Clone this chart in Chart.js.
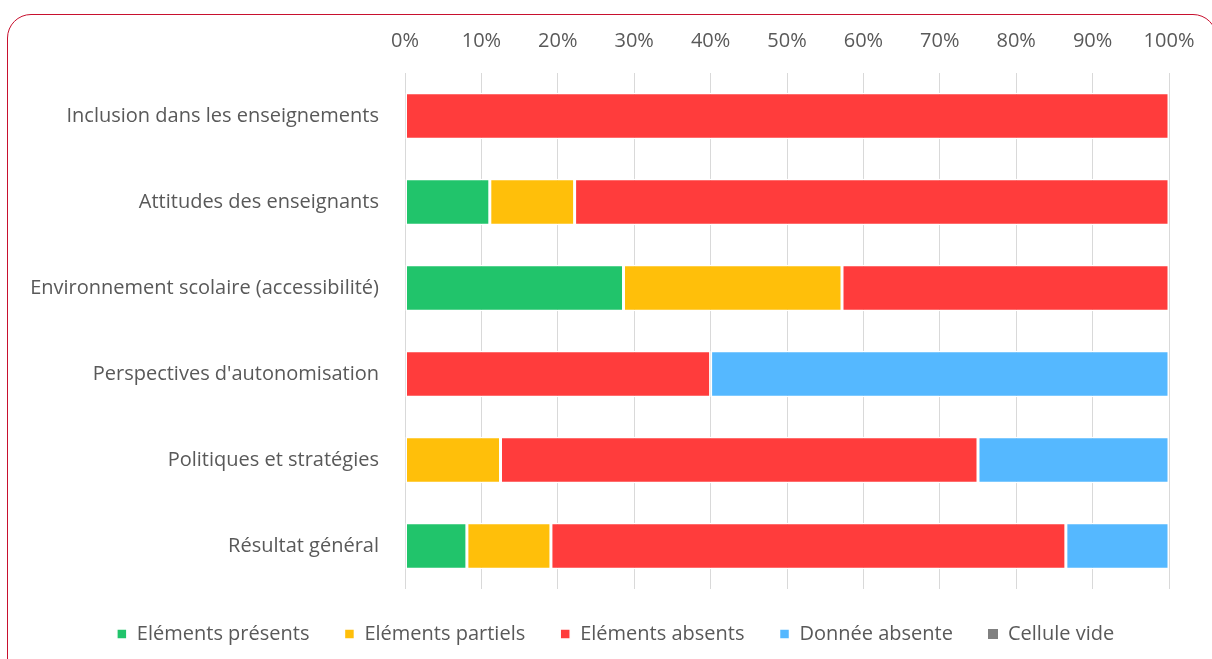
<!DOCTYPE html>
<html>
<head>
<meta charset="utf-8">
<script src="https://cdn.jsdelivr.net/npm/chart.js@4/dist/chart.umd.min.js"></script>
<style>
    html, body { margin: 0; padding: 0; background: #fff; }
    #wrap { position: relative; width: 1212px; height: 659px; overflow: hidden; }
    #frame {
        position: absolute; left: 7px; top: 14px; width: 1210px; height: 680px;
        border: 1.5px solid #C8102E; border-radius: 24px; box-sizing: border-box;
    }
    #chart { position: absolute; left: 0; top: 0; }
</style>
</head>
<body>
<div id="wrap">
    <div id="frame"></div>
    <canvas id="chart" width="1212" height="659"></canvas>
</div>
<script>
var categories = [
    "Inclusion dans les enseignements",
    "Attitudes des enseignants",
    "Environnement scolaire (accessibilité)",
    "Perspectives d'autonomisation",
    "Politiques et stratégies",
    "Résultat général"
];

var presents = [0, 11.1, 28.6, 0, 0, 8.1];
var partiels = [0, 11.1, 28.6, 0, 12.5, 11.0];
var absents = [100, 77.8, 42.8, 40, 62.5, 67.4];
var donneeAbsente = [0, 0, 0, 60, 25, 13.5];
var celluleVide = [0, 0, 0, 0, 0, 0];

var seriesNames = ["Eléments présents", "Eléments partiels", "Eléments absents", "Donnée absente", "Cellule vide"];
var seriesColors = ["#21C46B", "#FFBF0A", "#FF3C3C", "#55B8FF", "#808080"];
var xTicks = [0, 10, 20, 30, 40, 50, 60, 70, 80, 90, 100];

var textColor = "#595959";
var font = "'Open Sans', sans-serif";

var seriesData = [presents, partiels, absents, donneeAbsente, celluleVide];
var datasets = seriesData.map(function(d, i) {
    return {
        label: seriesNames[i],
        data: d,
        backgroundColor: seriesColors[i],
        borderColor: "#ffffff",
        borderWidth: i === 4 ? 0 : 1.5,
        borderSkipped: false,
        barPercentage: 0.54,
        categoryPercentage: 1
    };
});

var ctx = document.getElementById("chart").getContext("2d");
window.myBar = new Chart(ctx, {
    type: 'bar',
    data: {
        labels: categories,
        datasets: datasets
    },
    options: {
        indexAxis: 'y',
        responsive: false,
        animation: false,
        layout: {
            padding: { left: 19, right: 0, top: 0, bottom: 5 }
        },
        scales: {
            x: {
                position: 'top',
                stacked: true,
                min: 0,
                max: 100,
                afterBuildTicks: function(scale) {
                    scale.ticks = xTicks.map(function(v) { return { value: v }; });
                },
                afterFit: function(scale) {
                    scale.height = 73;
                    scale.paddingRight = 43;
                },
                grid: { color: "#D9D9D9", drawTicks: false, lineWidth: 1 },
                border: { display: false },
                ticks: {
                    color: textColor,
                    font: { family: font, size: 20 },
                    padding: 20,
                    callback: function(v) { return v + "%"; }
                }
            },
            y: {
                stacked: true,
                afterFit: function(scale) { scale.width = 386; },
                grid: { display: false, drawTicks: false },
                border: { display: false },
                ticks: {
                    color: textColor,
                    font: { family: font, size: 20 },
                    padding: 26
                }
            }
        },
        plugins: {
            legend: {
                position: 'bottom',
                labels: {
                    color: textColor,
                    font: { family: font, size: 20 },
                    boxWidth: 10,
                    boxHeight: 10,
                    padding: 35
                }
            },
            tooltip: { enabled: false }
        }
    }
});
</script>
</body>
</html>
